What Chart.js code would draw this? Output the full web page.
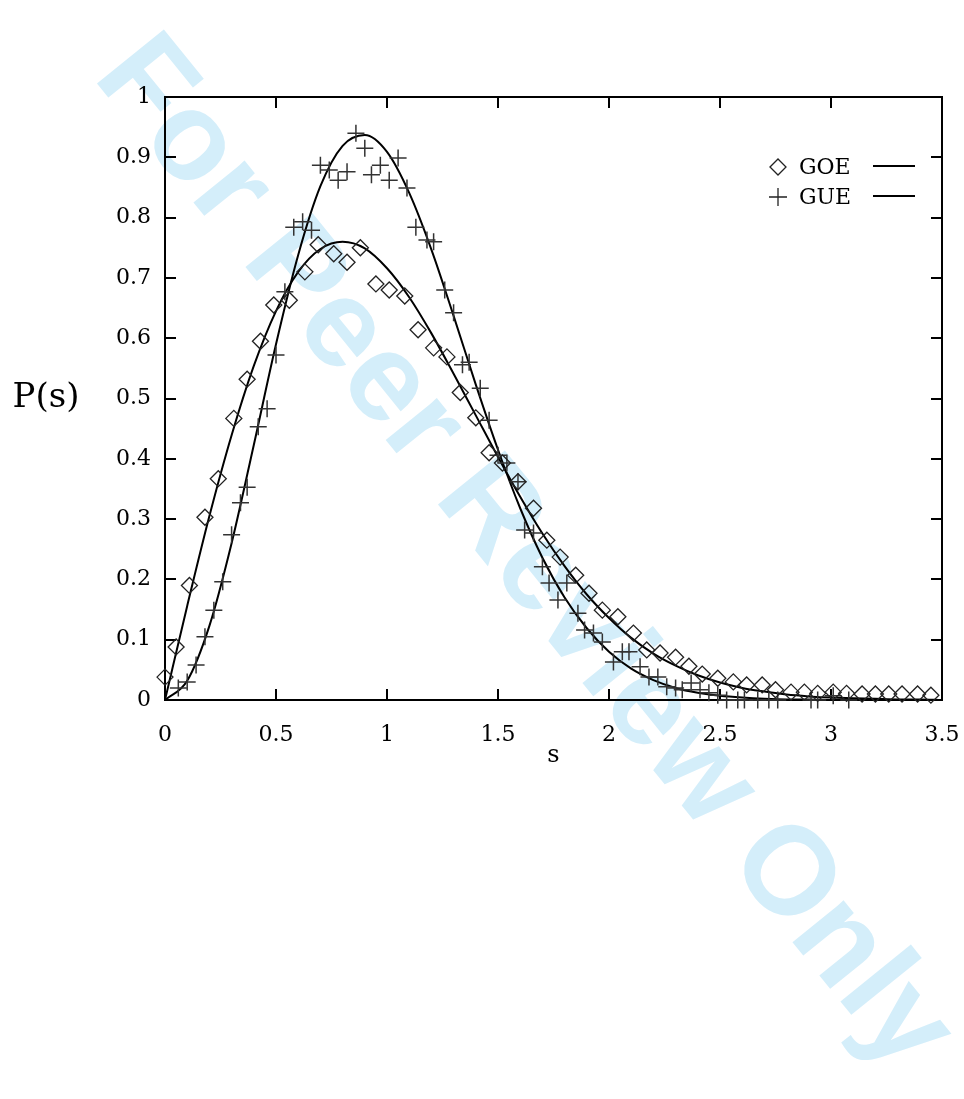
<!DOCTYPE html>
<html lang="en">
    <head>
        <meta charset="UTF-8" />
        <title>P(s) spacing distribution</title>
        <script src="https://cdn.jsdelivr.net/npm/chart.js"></script>
        <style>
            body {
                margin: 0;
                background: #fff;
            }
            #wrap {
                position: relative;
                width: 964px;
                height: 1099px;
                overflow: hidden;
            }
            #watermark {
                position: absolute;
                left: 530px;
                top: 549px;
                transform: translate(-50%, -50%) rotate(51deg);
                font-family: "Liberation Sans", Arial, sans-serif;
                font-weight: bold;
                font-size: 125px;
                line-height: 1;
                white-space: nowrap;
                color: rgb(212, 238, 250);
            }
            canvas {
                position: absolute;
                left: 0;
                top: 0;
            }
        </style>
    </head>
    <body>
        <div id="wrap">
            <div id="watermark">For Peer Review Only</div>
            <canvas id="chart" width="964" height="1099"></canvas>
        </div>

        <script>
            // GOE histogram (diamonds)
            const goeS = [
                0.0, 0.05, 0.11, 0.18, 0.24, 0.31, 0.37, 0.43, 0.49, 0.56, 0.63, 0.69, 0.76, 0.82, 0.88,
                0.95, 1.01, 1.08, 1.14, 1.21, 1.27, 1.33, 1.4, 1.46, 1.52, 1.59, 1.66, 1.72, 1.78, 1.85,
                1.91, 1.97, 2.04, 2.11, 2.17, 2.23, 2.3, 2.36, 2.42, 2.49, 2.56, 2.62, 2.69, 2.75, 2.82,
                2.88, 2.94, 3.01, 3.07, 3.14, 3.2, 3.26, 3.32, 3.39, 3.45,
            ]
            const goeP = [
                0.038, 0.088, 0.19, 0.303, 0.367, 0.467, 0.532, 0.595, 0.655, 0.663, 0.71, 0.755, 0.74,
                0.726, 0.75, 0.69, 0.68, 0.67, 0.614, 0.584, 0.569, 0.51, 0.468, 0.41, 0.393, 0.362,
                0.318, 0.265, 0.237, 0.207, 0.177, 0.149, 0.138, 0.111, 0.083, 0.078, 0.071, 0.056,
                0.043, 0.036, 0.03, 0.025, 0.025, 0.017, 0.013, 0.013, 0.011, 0.013, 0.011, 0.01, 0.01,
                0.01, 0.01, 0.01, 0.008,
            ]

            // GUE histogram (crosses)
            const gueS = [
                0.06, 0.1, 0.14, 0.18, 0.22, 0.26, 0.3, 0.34, 0.37, 0.42, 0.46, 0.5, 0.54, 0.58, 0.62,
                0.66, 0.7, 0.74, 0.78, 0.82, 0.86, 0.9, 0.93, 0.97, 1.01, 1.05, 1.09, 1.13, 1.18, 1.21,
                1.26, 1.3, 1.34, 1.37, 1.42, 1.46, 1.5, 1.54, 1.59, 1.62, 1.66, 1.7, 1.73, 1.77, 1.81,
                1.86, 1.89, 1.93, 1.97, 2.02, 2.06, 2.09, 2.14, 2.18, 2.22, 2.26, 2.3, 2.33, 2.37, 2.41,
                2.45, 2.49, 2.53, 2.58, 2.61, 2.67, 2.72, 2.76, 2.91, 2.94, 3.01, 3.08,
            ]
            const gueP = [
                0.02, 0.03, 0.058, 0.105, 0.149, 0.196, 0.274, 0.327, 0.353, 0.453, 0.483, 0.572, 0.677,
                0.784, 0.793, 0.779, 0.887, 0.879, 0.862, 0.876, 0.94, 0.915, 0.871, 0.887, 0.862, 0.899,
                0.849, 0.784, 0.763, 0.76, 0.68, 0.642, 0.556, 0.56, 0.517, 0.464, 0.406, 0.393, 0.362,
                0.282, 0.277, 0.221, 0.194, 0.166, 0.194, 0.144, 0.116, 0.111, 0.096, 0.063, 0.08, 0.08,
                0.055, 0.038, 0.038, 0.022, 0.02, 0.017, 0.028, 0.017, 0.012, 0.008, 0, 0, 0, 0, 0, 0,
                0, 0, 0.007, 0,
            ]

            // smooth curves
            const curveS = [
                0, 0.1, 0.2, 0.3, 0.4, 0.5, 0.6, 0.7, 0.8, 0.9, 1.0, 1.1, 1.2, 1.3, 1.4, 1.5, 1.6, 1.7,
                1.8, 1.9, 2.0, 2.1, 2.2, 2.3, 2.4, 2.5, 2.6, 2.7, 2.8, 2.9, 3.0, 3.1, 3.2, 3.3, 3.4, 3.5,
            ]
            const goeCurve = [
                0, 0.156, 0.305, 0.439, 0.554, 0.645, 0.71, 0.748, 0.76, 0.749, 0.716, 0.668, 0.608,
                0.541, 0.472, 0.403, 0.337, 0.276, 0.222, 0.175, 0.136, 0.103, 0.077, 0.057, 0.041,
                0.029, 0.02, 0.014, 0.009, 0.006, 0.004, 0.003, 0.002, 0.001, 0.001, 0,
            ]
            const gueCurve = [
                0, 0.032, 0.123, 0.26, 0.423, 0.59, 0.738, 0.852, 0.919, 0.937, 0.909, 0.841, 0.747,
                0.637, 0.523, 0.415, 0.318, 0.236, 0.17, 0.119, 0.08, 0.052, 0.033, 0.02, 0.012, 0.007,
                0.004, 0.002, 0.001, 0.001, 0, 0, 0, 0, 0, 0,
            ]

            const pts = (xs, ys) => xs.map((x, i) => ({ x: x, y: ys[i] }))
            const serif = "'DejaVu Serif', serif"
            const tickLabel = (v) => String(Number(v.toFixed(2)))

            // frame, inward ticks on all four sides, axis titles and legend
            const decor = {
                id: "decor",
                beforeDatasetsDraw(chart) {
                    const { ctx, chartArea: a, scales } = chart
                    const tl = 11
                    ctx.save()
                    ctx.strokeStyle = "#000"
                    ctx.lineWidth = 2
                    ctx.beginPath()
                    scales.x.ticks.forEach((t) => {
                        const px = Math.round(scales.x.getPixelForValue(t.value))
                        if (px <= a.left + 1 || px >= a.right - 1) return
                        ctx.moveTo(px, a.bottom)
                        ctx.lineTo(px, a.bottom - tl)
                        ctx.moveTo(px, a.top)
                        ctx.lineTo(px, a.top + tl)
                    })
                    scales.y.ticks.forEach((t) => {
                        const py = Math.round(scales.y.getPixelForValue(t.value))
                        if (py <= a.top + 1 || py >= a.bottom - 1) return
                        ctx.moveTo(a.left, py)
                        ctx.lineTo(a.left + tl, py)
                        ctx.moveTo(a.right, py)
                        ctx.lineTo(a.right - tl, py)
                    })
                    ctx.stroke()
                    ctx.strokeRect(a.left, a.top, a.right - a.left, a.bottom - a.top)

                    ctx.fillStyle = "#000"
                    ctx.textAlign = "center"
                    ctx.textBaseline = "middle"
                    ctx.font = "34px " + serif
                    ctx.fillText("P(s)", 46, (a.top + a.bottom) / 2)
                    ctx.font = "24px " + serif
                    ctx.fillText("s", (a.left + a.right) / 2, a.bottom + 56)
                    ctx.restore()
                },
                afterDraw(chart) {
                    const { ctx } = chart
                    const rows = [
                        { label: "GOE", style: "rectRot", r: 8, y: 167 },
                        { label: "GUE", style: "cross", r: 9, y: 197 },
                    ]
                    ctx.save()
                    rows.forEach((row) => {
                        ctx.strokeStyle = "#222"
                        ctx.lineWidth = 1.3
                        Chart.helpers.drawPoint(ctx, { pointStyle: row.style, radius: row.r, borderWidth: 1.3 }, 778, row.y)
                        ctx.fillStyle = "#000"
                        ctx.font = "22px " + serif
                        ctx.textAlign = "left"
                        ctx.textBaseline = "middle"
                        ctx.fillText(row.label, 799, row.y + 1)
                        ctx.strokeStyle = "#000"
                        ctx.lineWidth = 2
                        ctx.beginPath()
                        ctx.moveTo(873, row.y - 1)
                        ctx.lineTo(915, row.y - 1)
                        ctx.stroke()
                    })
                    ctx.restore()
                },
            }

            new Chart(document.getElementById("chart"), {
                type: "scatter",
                data: {
                    datasets: [
                        {
                            label: "GOE",
                            data: pts(goeS, goeP),
                            pointStyle: "rectRot",
                            pointRadius: 8,
                            pointBorderWidth: 1.3,
                            pointBorderColor: "#222",
                            pointBackgroundColor: "rgba(0,0,0,0)",
                            clip: false,
                        },
                        {
                            label: "GUE",
                            data: pts(gueS, gueP),
                            pointStyle: "cross",
                            pointRadius: 8.5,
                            pointBorderWidth: 1.5,
                            pointBorderColor: "#333",
                            clip: false,
                        },
                        {
                            type: "line",
                            label: "GOE fit",
                            data: pts(curveS, goeCurve),
                            borderColor: "#000",
                            borderWidth: 2,
                            pointRadius: 0,
                            cubicInterpolationMode: "monotone",
                        },
                        {
                            type: "line",
                            label: "GUE fit",
                            data: pts(curveS, gueCurve),
                            borderColor: "#000",
                            borderWidth: 2,
                            pointRadius: 0,
                            cubicInterpolationMode: "monotone",
                        },
                    ],
                },
                options: {
                    responsive: false,
                    animation: false,
                    events: [],
                    layout: { padding: { left: 0, right: 22, top: 97, bottom: 0 } },
                    plugins: { legend: { display: false }, tooltip: { enabled: false } },
                    scales: {
                        x: {
                            type: "linear",
                            min: 0,
                            max: 3.5,
                            grid: { display: false },
                            border: { display: false },
                            ticks: {
                                stepSize: 0.5,
                                padding: 14,
                                color: "#000",
                                font: { family: serif, size: 22 },
                                maxRotation: 0,
                                callback: tickLabel,
                            },
                            afterFit(scale) {
                                scale.height = 399
                                scale.paddingLeft = 0
                                scale.paddingRight = 0
                            },
                        },
                        y: {
                            min: 0,
                            max: 1,
                            grid: { display: false },
                            border: { display: false },
                            ticks: {
                                stepSize: 0.1,
                                padding: 6,
                                color: "#000",
                                font: { family: serif, size: 22 },
                                callback: tickLabel,
                            },
                            afterFit(scale) {
                                scale.width = 165
                                scale.paddingTop = 0
                                scale.paddingBottom = 0
                            },
                        },
                    },
                },
                plugins: [decor],
            })
        </script>
    </body>
</html>
